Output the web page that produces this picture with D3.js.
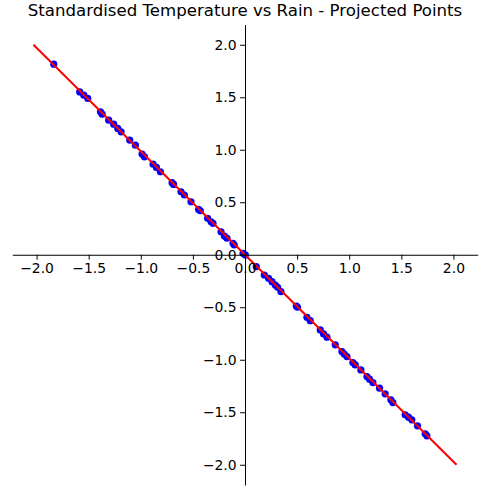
<!DOCTYPE html>
<html>
<head>
<meta charset="utf-8">
<script src="https://cdn.jsdelivr.net/npm/d3@7"></script>
<style>
  html, body { margin: 0; padding: 0; background: #fff; }
  svg { display: block; font-family: "DejaVu Sans", sans-serif; }
</style>
</head>
<body>
<div id="chart"></div>
<script>
// projected points (standardised temperature, rain)
const projX = [
  -1.835, -1.586, -1.547, -1.509, -1.387, -1.371, -1.308, -1.260, -1.221, -1.189,
  -1.106, -1.052, -0.988, -0.965, -0.882, -0.850, -0.812, -0.700, -0.685, -0.614,
  -0.582, -0.518, -0.445, -0.429, -0.359, -0.326, -0.307, -0.230, -0.198, -0.173,
  -0.115, -0.103, -0.019, 0.003, 0.108, 0.185, 0.226, 0.259, 0.291, 0.313,
  0.345, 0.492, 0.504, 0.594, 0.626, 0.722, 0.754, 0.786, 0.866, 0.930,
  0.952, 0.978, 1.035, 1.058, 1.112, 1.170, 1.195, 1.227, 1.291, 1.345,
  1.400, 1.419, 1.537, 1.569, 1.601, 1.655, 1.729, 1.745
];
const projY = [
  1.815, 1.551, 1.520, 1.489, 1.361, 1.339, 1.282, 1.244, 1.203, 1.171,
  1.092, 1.044, 0.959, 0.933, 0.863, 0.832, 0.790, 0.686, 0.670, 0.600,
  0.569, 0.505, 0.432, 0.419, 0.347, 0.314, 0.299, 0.219, 0.178, 0.157,
  0.109, 0.093, 0.014, -0.002, -0.114, -0.193, -0.224, -0.256, -0.288, -0.310,
  -0.352, -0.488, -0.500, -0.596, -0.628, -0.716, -0.754, -0.785, -0.858, -0.922,
  -0.946, -0.970, -1.027, -1.049, -1.097, -1.160, -1.185, -1.217, -1.271, -1.325,
  -1.382, -1.408, -1.525, -1.547, -1.572, -1.629, -1.706, -1.725
];

// principal direction line
const lineX = [-2.03, 2.03];
const lineY = [2.0, -2.0];

const tickValues = [-2.0, -1.5, -1.0, -0.5, 0.0, 0.5, 1.0, 1.5, 2.0];
const titleText = "Standardised Temperature vs Rain - Projected Points";

(function () {
  const width = 497;
  const height = 493;

  const x = d3.scaleLinear().domain([-2.233, 2.233]).range([12.3, 477.7]);
  const y = d3.scaleLinear().domain([-2.193, 2.193]).range([485, 24.5]);
  const fmt = d3.format(".1f");

  const svg = d3.select("#chart")
    .append("svg")
    .attr("width", width)
    .attr("height", height);

  // points
  svg.append("g")
    .selectAll("circle")
    .data(d3.range(projX.length))
    .join("circle")
    .attr("cx", (i) => x(projX[i]))
    .attr("cy", (i) => y(projY[i]))
    .attr("r", 3.6)
    .attr("fill", "#0000ff");

  // line on top of points
  svg.append("path")
    .datum(d3.range(lineX.length))
    .attr("d", d3.line().x((i) => x(lineX[i])).y((i) => y(lineY[i])))
    .attr("fill", "none")
    .attr("stroke", "#ff0000")
    .attr("stroke-width", 2);

  // spines through the origin
  const xAxis = d3.axisBottom(x).tickValues(tickValues).tickFormat(fmt)
    .tickSize(4.9).tickPadding(3.5).tickSizeOuter(0);
  const yAxis = d3.axisLeft(y).tickValues(tickValues).tickFormat(fmt)
    .tickSize(4.9).tickPadding(3.5).tickSizeOuter(0);

  const gx = svg.append("g")
    .attr("transform", `translate(0,${y(0)})`)
    .call(xAxis);
  const gy = svg.append("g")
    .attr("transform", `translate(${x(0)},0)`)
    .call(yAxis);

  [gx, gy].forEach((g) => {
    g.select(".domain").attr("stroke", "#000").attr("stroke-width", 1);
    g.selectAll(".tick line").attr("stroke", "#000").attr("stroke-width", 1);
    g.selectAll(".tick text")
      .attr("fill", "#000")
      .style("font-family", "DejaVu Sans")
      .style("font-size", "13.9px");
  });

  svg.append("text")
    .attr("x", x(0))
    .attr("y", 16)
    .attr("text-anchor", "middle")
    .style("font-family", "DejaVu Sans")
    .style("font-size", "16.6px")
    .attr("fill", "#000")
    .text(titleText);
})();
</script>
</body>
</html>
